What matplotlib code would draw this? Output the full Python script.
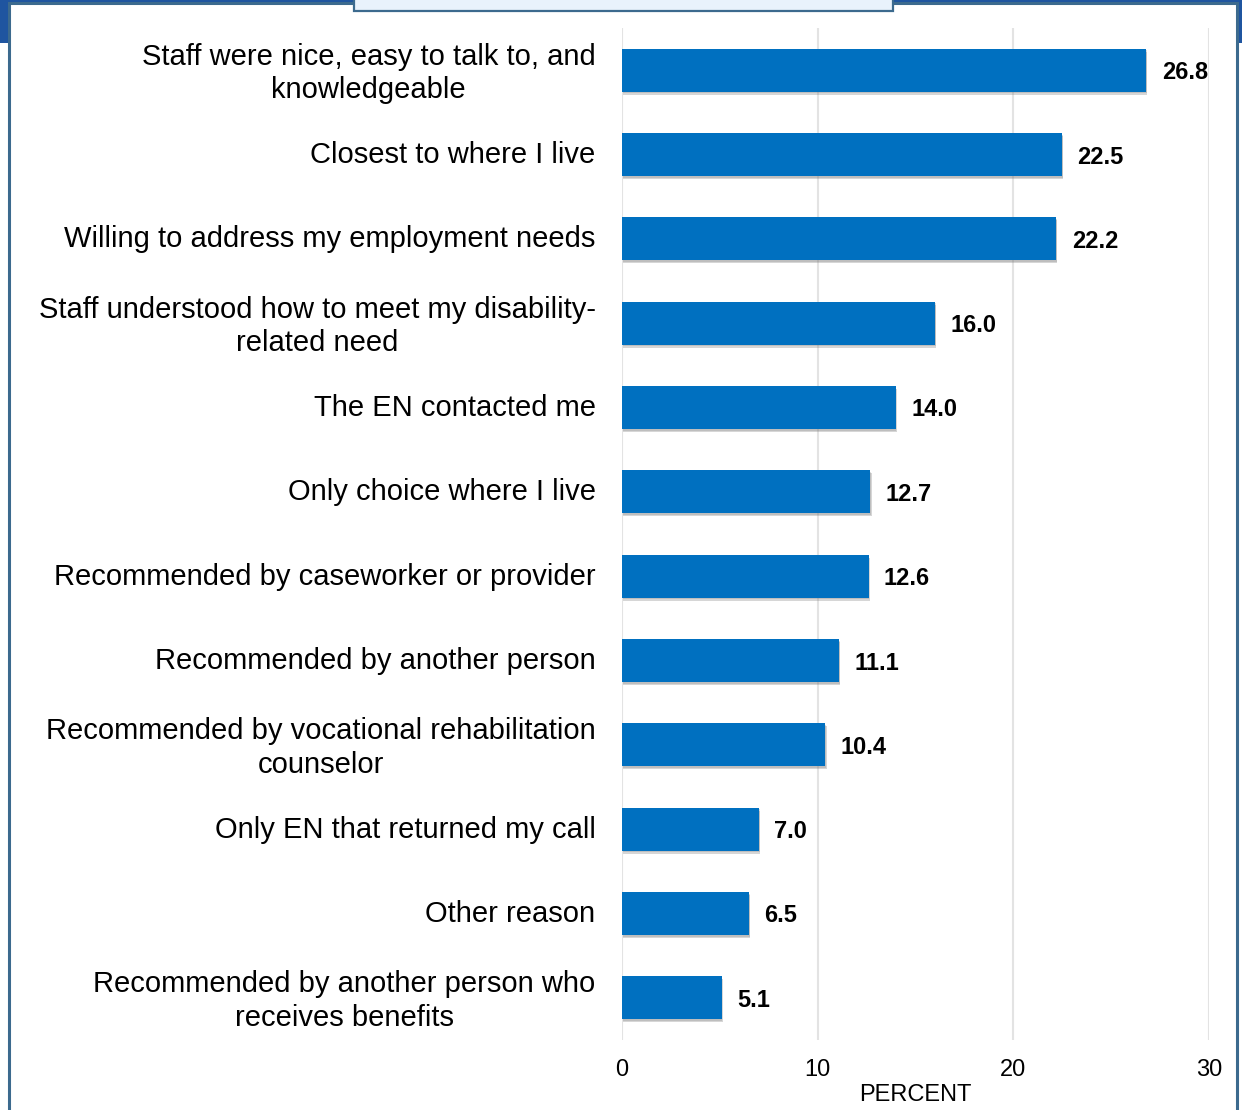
import numpy as np
import matplotlib.pyplot as plt
import matplotlib.patheffects as pe
import matplotlib.transforms as mtransforms
from matplotlib.patches import Rectangle

plt.rcParams['font.family'] = ['Liberation Sans', 'DejaVu Sans']

reasons = [
    "Staff were nice, easy to talk to, and\nknowledgeable",
    "Closest to where I live",
    "Willing to address my employment needs",
    "Staff understood how to meet my disability-\nrelated need",
    "The EN contacted me",
    "Only choice where I live",
    "Recommended by caseworker or provider",
    "Recommended by another person",
    "Recommended by vocational rehabilitation\ncounselor",
    "Only EN that returned my call",
    "Other reason",
    "Recommended by another person who\nreceives benefits",
]
percent = [26.8, 22.5, 22.2, 16.0, 14.0, 12.7, 12.6, 11.1, 10.4, 7.0, 6.5, 5.1]
xticks = [0, 10, 20, 30]

bar_color = '#0070C0'
frame_color = '#3C6A8E'
dark_blue = '#1F55A0'

fig = plt.figure(figsize=(12.42, 11.10), dpi=100, facecolor='white')
W, H = 1242, 1110

# slide frame pieces behind the chart
fig.patches.append(Rectangle((0, 1 - 4 / H), 1, 4 / H, transform=fig.transFigure,
                             facecolor=dark_blue, edgecolor='none', zorder=-10))
fig.patches.append(Rectangle((0, 1 - 43 / H), 8 / W, 43 / H, transform=fig.transFigure,
                             facecolor=dark_blue, edgecolor='none', zorder=-10))
fig.patches.append(Rectangle((1 - 5 / W, 1 - 43 / H), 5 / W, 43 / H, transform=fig.transFigure,
                             facecolor=dark_blue, edgecolor='none', zorder=-10))
fig.patches.append(Rectangle((8.5 / W, -5 / H), (1237 - 8.5) / W, (1110 - 3) / H + 5 / H,
                             transform=fig.transFigure, facecolor='white',
                             edgecolor=frame_color, linewidth=2.2, zorder=-9))
fig.patches.append(Rectangle((354 / W, 1 - 11 / H), (893 - 354) / W, 20 / H,
                             transform=fig.transFigure, facecolor='#E9F2FC',
                             edgecolor=frame_color, linewidth=1.6, zorder=-8))

ax = fig.add_axes([622 / W, 1 - 1040 / H, (1209 - 622) / W, (1040 - 28) / H])
ax.set_facecolor('none')

y = np.arange(len(reasons))
bars = ax.barh(y, percent, height=0.51, color=bar_color, zorder=3)
for b in bars:
    b.set_path_effects([pe.SimplePatchShadow(offset=(0.8, -2.2), shadow_rgbFace='#7a7a7a', alpha=0.3),
                        pe.SimplePatchShadow(offset=(0.4, -1.2), shadow_rgbFace='#7a7a7a', alpha=0.25),
                        pe.Normal()])

for yi, v in zip(y, percent):
    ax.annotate(f"{v:.1f}", (v, yi), xytext=(11, 0), textcoords='offset points',
                ha='left', va='center_baseline', fontsize=17, fontweight='bold', color='black')

ax.set_ylim(len(reasons) - 0.5, -0.5)
ax.set_xlim(0, 30)
ax.set_xticks(xticks)
ax.set_yticks(y)
ax.set_yticklabels(reasons, fontsize=21, linespacing=1.25, multialignment='center')
ax.tick_params(axis='y', length=0, pad=19)
ax.tick_params(axis='x', length=0, pad=14, labelsize=17)
ax.set_xlabel("PERCENT", fontsize=17, labelpad=1.5)
ax.grid(axis='x', color='#E3E3E3', linewidth=1.5, zorder=0)
ax.set_axisbelow(True)
for s in ax.spines.values():
    s.set_visible(False)

# nudge category labels up a little
shift = mtransforms.ScaledTranslation(0, 2.5 / 100, fig.dpi_scale_trans)
for lab in ax.get_yticklabels():
    lab.set_transform(lab.get_transform() + shift)

fig.savefig("out.png", dpi=100, facecolor='white')
